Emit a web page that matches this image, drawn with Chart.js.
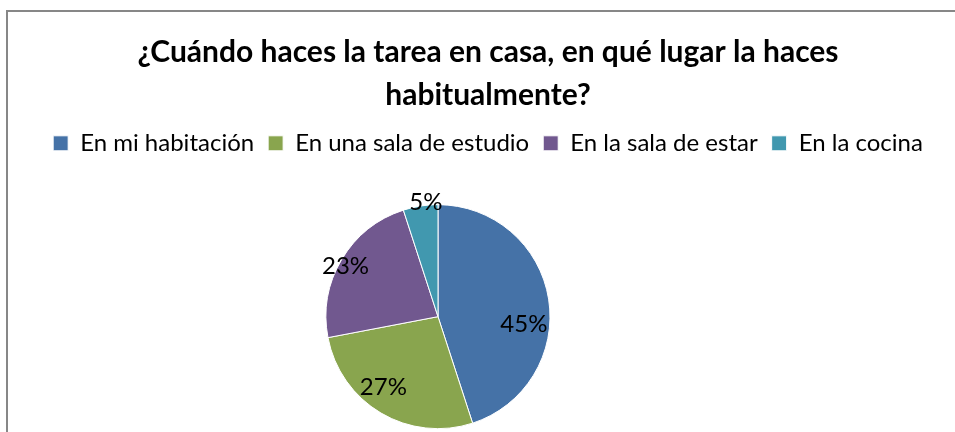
<!DOCTYPE html>
<html>
<head>
<meta charset="utf-8">
<script src="https://cdn.jsdelivr.net/npm/chart.js@4.4.1/dist/chart.umd.min.js"></script>
<style>
  html, body { margin:0; padding:0; background:#fff; overflow:hidden; }
  #marco { position:absolute; left:6px; top:10px; width:962px; height:480px;
           border-left:2px solid #878787; border-top:2px solid #878787; box-sizing:border-box; }
  #marco canvas { display:block; }
</style>
</head>
<body>
<div id="marco"><canvas id="tarta"></canvas></div>
<script>
// ---------- Datos ----------
const TITULO    = ['¿Cuándo haces la tarea en casa, en qué lugar la haces', 'habitualmente?'];
const LUGARES   = ['En mi habitación', 'En una sala de estudio', 'En la sala de estar', 'En la cocina'];
const PORCENTAJES = [45, 27, 23, 5];
const COLORES   = ['#4572A7', '#89A54E', '#71588F', '#4198AF'];

const FUENTE = 'Lato, "Open Sans", sans-serif';

// Etiquetas de porcentaje sobre cada porción (radio relativo y giro en grados)
const etiquetas = {
  id: 'etiquetas',
  afterDatasetsDraw(chart, args, opts){
    const ctx = chart.ctx;
    const arcs = chart.getDatasetMeta(0).data;
    ctx.save();
    ctx.font = opts.font;
    ctx.fillStyle = '#000';
    ctx.textAlign = 'center';
    ctx.textBaseline = 'middle';
    arcs.forEach((a, i) => {
      const p = opts.sitio[i];
      const ang = (a.startAngle + a.endAngle)/2 + p.giro*Math.PI/180;
      const r = a.outerRadius * p.r;
      ctx.fillText(chart.data.datasets[0].data[i] + '%', a.x + Math.cos(ang)*r, a.y + Math.sin(ang)*r);
    });
    ctx.restore();
  }
};

// Desplaza la zona de la tarta hacia la izquierda sin mover título ni leyenda
const zonaTarta = {
  id: 'zonaTarta',
  afterLayout(chart, args, opts){
    chart.chartArea.right -= opts.derecha;
    chart.chartArea.width = chart.chartArea.right - chart.chartArea.left;
  }
};

new Chart(document.getElementById('tarta'), {
  type: 'pie',
  data: {
    labels: LUGARES,
    datasets: [{
      data: PORCENTAJES,
      backgroundColor: COLORES,
      borderColor: '#ffffff',
      borderWidth: 1,
      radius: 112
    }]
  },
  options: {
    responsive: true, maintainAspectRatio: false, animation: false,
    layout: { padding: { bottom: 22 } },
    plugins: {
      title: {
        display: true, text: TITULO, color: '#000',
        font: { family: FUENTE, size: 30, weight: 'bold', lineHeight: 1.43 },
        padding: { top: 18.5, bottom: 1 }
      },
      legend: {
        position: 'top',
        labels: { color: '#000', boxWidth: 15, boxHeight: 15, padding: 14,
                  font: { family: FUENTE, size: 24 } }
      },
      tooltip: { enabled: false },
      etiquetas: {
        font: '24px ' + FUENTE,
        sitio: [ {r:0.77, giro:14}, {r:0.80, giro:7}, {r:0.94, giro:-2}, {r:1.03, giro:3} ]
      },
      zonaTarta: { derecha: 100 }
    }
  },
  plugins: [zonaTarta, etiquetas]
});
</script>
</body>
</html>
